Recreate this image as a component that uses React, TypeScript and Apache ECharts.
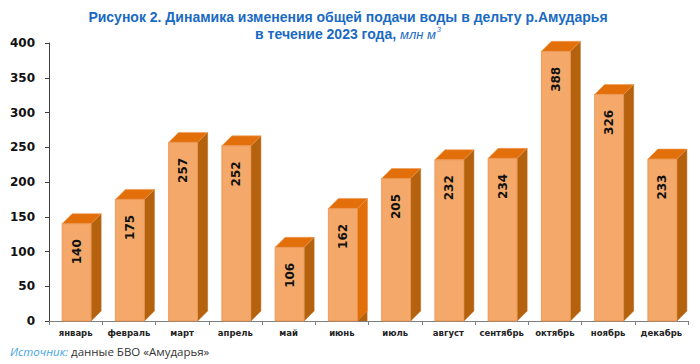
import React, { useEffect, useRef } from "react";
import * as echarts from "echarts";

const months = ["январь", "февраль", "март", "апрель", "май", "июнь", "июль", "август", "сентябрь", "октябрь", "ноябрь", "декабрь"];
const volumes = [140, 175, 257, 252, 106, 162, 205, 232, 234, 388, 326, 233];
const yTicks = { min: 0, max: 400, interval: 50 };
const titleLine1 = "Рисунок 2. Динамика изменения общей подачи воды в дельту р.Амударья";
const titleLine2 = "в течение 2023 года, ";
const titleUnit = "млн м";
const titleSup = "3";
const sourceLabel = "Источник:";
const sourceText = " данные БВО «Амударья»";

const FRONT = "#F4A96A";
const FRONT_EDGE = "#E8904A";
const TOP = "#E36F0B";
const SIDE = "#B5620F";
const HIGHLIGHT_IDX = 5;
const BLUE = "#1A6AC4";

const FONT_B = "bold 14px 'Liberation Sans'";
const FONT_I = "italic 13px 'Liberation Sans'";
const FONT_S = "italic 7px 'Liberation Sans'";

function textWidth(text: string, font: string): number {
  const t = new (echarts.graphic as any).Text({ style: { text, font } });
  return t.getBoundingRect().width;
}

export default function App() {
  const ref = useRef<HTMLDivElement>(null);
  useEffect(() => {
    document.body.style.margin = "0";
    const chart = echarts.init(ref.current!, null, { renderer: "svg" });
    const cx = 348;
    const w2 = textWidth(titleLine2, FONT_B);
    const wu = textWidth(titleUnit, FONT_I);
    const ws = textWidth(titleSup, FONT_S);
    const startX = cx - (w2 + wu + ws + 1) / 2;
    const option: any = {
      animation: false,
      backgroundColor: "#ffffff",
      grid: { left: 49, right: 12, top: 43, bottom: 43, containLabel: false },
      xAxis: {
        type: "category",
        data: months,
        axisLine: { lineStyle: { color: "#7f7f7f", width: 1 } },
        axisTick: { show: true, length: 4, lineStyle: { color: "#7f7f7f" } },
        axisLabel: { fontFamily: "DejaVu Sans", fontWeight: "bold", fontSize: 8.5, color: "#222", margin: 7, interval: 0 },
      },
      yAxis: {
        type: "value",
        min: yTicks.min,
        max: yTicks.max,
        interval: yTicks.interval,
        splitLine: { show: false },
        axisLine: { show: true, lineStyle: { color: "#404040", width: 1 } },
        axisTick: { show: true, length: 4, lineStyle: { color: "#404040" } },
        axisLabel: { fontFamily: "DejaVu Sans", fontWeight: "bold", fontSize: 12, color: "#111", margin: 14 },
      },
      series: [
        {
          type: "custom",
          data: volumes.map((v, i) => [i, v]),
          encode: { x: 0, y: 1 },
          renderItem: (params: any, api: any) => {
            const idx = api.value(0);
            const val = api.value(1);
            const top = api.coord([idx, val]);
            const base = api.coord([idx, 0]);
            const w = 29;
            const d = 10;
            const x0 = top[0] - w / 2 + 1;
            const x1 = x0 + w;
            const yt = top[1];
            const yb = base[1];
            const sideColor = idx === HIGHLIGHT_IDX ? TOP : SIDE;
            const children: any[] = [
              {
                type: "polygon",
                shape: { points: [[x1, yb], [x1 + d, yb - d], [x1 + d, yt - d], [x1, yt]] },
                style: { fill: sideColor, stroke: sideColor, lineWidth: 0.5 },
              },
              {
                type: "polygon",
                shape: { points: [[x0, yt], [x0 + d, yt - d], [x1 + d, yt - d], [x1, yt]] },
                style: { fill: TOP, stroke: "#EE9A55", lineWidth: 0.6 },
              },
              {
                type: "rect",
                shape: { x: x0, y: yt, width: w, height: yb - yt },
                style: { fill: FRONT, stroke: FRONT_EDGE, lineWidth: 0.8 },
              },
              {
                type: "text",
                x: x0 + w / 2,
                y: yt + 28,
                rotation: Math.PI / 2,
                style: {
                  text: String(val),
                  fill: "#111",
                  font: "bold 12px 'DejaVu Sans'",
                  align: "center",
                  verticalAlign: "middle",
                },
              },
            ];
            if (idx === HIGHLIGHT_IDX) {
              children.splice(1, 0, {
                type: "polygon",
                shape: { points: [[x1, yb], [x1 + d, yb - d], [x1 + d, yb]] },
                style: { fill: SIDE },
              });
            }
            return { type: "group", children };
          },
        },
      ],
      graphic: [
        {
          type: "text",
          x: cx,
          y: 16.5,
          style: { text: titleLine1, font: FONT_B, fill: BLUE, align: "center", verticalAlign: "middle" },
        },
        {
          type: "text",
          x: startX,
          y: 34,
          style: { text: titleLine2, font: FONT_B, fill: BLUE, align: "left", verticalAlign: "middle" },
        },
        {
          type: "text",
          x: startX + w2,
          y: 34.5,
          style: { text: titleUnit, font: FONT_I, fill: BLUE, align: "left", verticalAlign: "middle" },
        },
        {
          type: "text",
          x: startX + w2 + wu + 1,
          y: 29,
          style: { text: titleSup, font: FONT_S, fill: BLUE, align: "left", verticalAlign: "middle" },
        },
        {
          type: "text",
          x: 10,
          y: 351,
          style: { text: sourceLabel, font: "italic 11.5px 'Open Sans'", fill: "#45A5E5", align: "left", verticalAlign: "middle" },
        },
        {
          type: "text",
          x: 10 + textWidth(sourceLabel, "italic 11.5px 'Open Sans'"),
          y: 351,
          style: { text: sourceText, font: "11.5px 'Open Sans'", fill: "#333", align: "left", verticalAlign: "middle" },
        },
      ],
    };
    chart.setOption(option);
    return () => chart.dispose();
  }, []);
  return <div ref={ref} style={{ width: 700, height: 364 }} />;
}
